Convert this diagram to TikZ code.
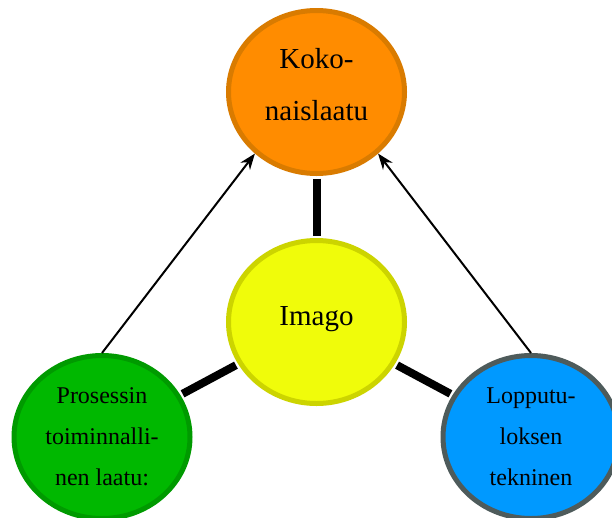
\documentclass[tikz,border=0pt]{standalone}
\usepackage{fontspec}
\setmainfont{Liberation Serif}
\usetikzlibrary{shapes.geometric,arrows.meta}
\definecolor{kokofill}{HTML}{FF8C00}
\definecolor{kokodraw}{HTML}{D97B00}
\definecolor{imagofill}{HTML}{F0FC0A}
\definecolor{imagodraw}{HTML}{CCD400}
\definecolor{prosfill}{HTML}{00B800}
\definecolor{prosdraw}{HTML}{009A00}
\definecolor{loppufill}{HTML}{0099FF}
\definecolor{loppudraw}{HTML}{4E5B5B}
\begin{document}
\begin{tikzpicture}[x=1pt,y=-1pt,>={Stealth[length=16pt,width=12pt]},line join=round,
  pallo/.style={ellipse,line width=5pt,minimum width=176pt,minimum height=163pt,inner sep=0pt,align=center},
  iso/.style={font=\fontsize{29}{52}\selectfont},
  pieni/.style={font=\fontsize{24}{41}\selectfont},
  paksu/.style={line width=8pt,shorten <=2.5pt,shorten >=2.5pt},
  ohut/.style={->,line width=2pt}]
\useasboundingbox (0,0) rectangle (612,517);
\node[pallo,iso,fill=kokofill,draw=kokodraw,text depth=16pt] (koko) at (316.5,92) {Koko-\\naislaatu};
\node[pallo,iso,fill=imagofill,draw=imagodraw,text depth=13pt] (imago) at (316.5,322) {Imago};
\node[pallo,pieni,fill=prosfill,draw=prosdraw] (prosessi) at (102,437) {Prosessin\\toiminnalli-\\nen laatu:};
\node[pallo,pieni,fill=loppufill,draw=loppudraw] (lopputulos) at (531,437) {Lopputu-\\loksen\\tekninen};
\draw[paksu] (koko) -- (imago);
\draw[paksu] (imago) -- (prosessi);
\draw[paksu] (imago) -- (lopputulos);
\draw[ohut] (prosessi.north) -- (koko.225);
\draw[ohut] (lopputulos.north) -- (koko.315);
\end{tikzpicture}
\end{document}
